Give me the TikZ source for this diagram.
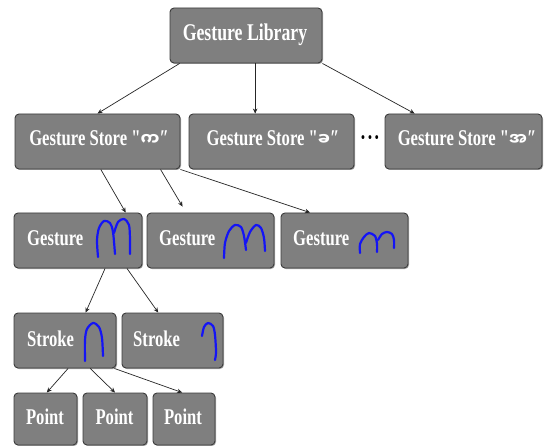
\documentclass[tikz,border=0pt]{standalone}
\usepackage{fontspec}
\newfontfamily\boxfont{Liberation Serif}[FakeStretch=0.74]
\newfontfamily\mya[Script=Myanmar]{Noto Sans Myanmar UI}
\usetikzlibrary{arrows.meta,calc,shadows}
\definecolor{boxc}{HTML}{7F7F7F}
\definecolor{edgec}{HTML}{3C3C3C}
\definecolor{inkc}{HTML}{1414F5}
\newcommand{\myc}[1]{{\mya\fontsize{17}{17}\selectfont #1}}
\begin{document}
\begin{tikzpicture}[x=1pt,y=-1pt,
 box/.style={draw=edgec, fill=boxc, rounded corners=4pt, line width=0.9pt, inner sep=0pt,
   drop shadow={shadow xshift=1pt,shadow yshift=-1pt,opacity=0.35,fill=black}},
 lbl/.style={text=white, inner sep=0pt, font=\boxfont\bfseries\fontsize{22.5}{24}\selectfont},
 con/.style={-{Stealth[length=5pt,width=4.5pt]}, line width=0.7pt, draw=black!85},
 ink/.style={draw=inkc, line width=2.2pt, line cap=round, line join=round}]
\useasboundingbox (0,0) rectangle (548,446);
\fill[white] (0,0) rectangle (548,446);

% boxes
\node[box, minimum width=152pt, minimum height=55pt] (lib) at (246,35.5) {};
\node[box, minimum width=165pt, minimum height=55pt] (s1) at (97.5,141.5) {};
\node[box, minimum width=165pt, minimum height=55pt] (s2) at (271.5,141.5) {};
\node[box, minimum width=157pt, minimum height=55pt] (s3) at (463.5,141.5) {};
\node[box, minimum width=128pt, minimum height=55pt] (g1) at (78,240.5) {};
\node[box, minimum width=127pt, minimum height=55pt] (g2) at (210.5,240.5) {};
\node[box, minimum width=127pt, minimum height=55pt] (g3) at (344.5,240.5) {};
\node[box, minimum width=102pt, minimum height=55pt] (st1) at (65,340.5) {};
\node[box, minimum width=101pt, minimum height=55pt] (st2) at (172.5,340.5) {};
\node[box, minimum width=63pt, minimum height=52pt] (p1) at (45.5,419) {};
\node[box, minimum width=64pt, minimum height=52pt] (p2) at (115,419) {};
\node[box, minimum width=62pt, minimum height=52pt] (p3) at (184,419) {};

% labels
\node[lbl, anchor=base, font=\boxfont\bfseries\fontsize{24}{26}\selectfont] (tlib) at (245,41) {Gesture Library};
\node[lbl, anchor=base] (ts1) at (99,146) {Gesture Store "\myc{က}″};
\node[lbl, anchor=base] (ts2) at (273,146) {Gesture Store "\myc{ခ}″};
\node[lbl, anchor=base] (ts3) at (467,146) {Gesture Store "\myc{အ}″};
\node[anchor=base, inner sep=0pt, font=\boxfont\bfseries\fontsize{24}{24}\selectfont] (dots) at (370,146) {·\kern1pt·\kern1pt·};
\node[lbl, anchor=base west] (tg1) at (27,245) {Gesture};
\node[lbl, anchor=base west] (tg2) at (159,245) {Gesture};
\node[lbl, anchor=base west] (tg3) at (293,245) {Gesture};
\node[lbl, anchor=base west] (tst1) at (27,346) {Stroke};
\node[lbl, anchor=base west] (tst2) at (133,346) {Stroke};
\node[lbl, anchor=base] (tp1) at (45,424) {Point};
\node[lbl, anchor=base] (tp2) at (114.5,424) {Point};
\node[lbl, anchor=base] (tp3) at (183,424) {Point};

% handwritten glyphs
\draw[ink] plot[smooth] coordinates {(98,257) (97,240) (99,228) (104,221) (110,223) (113,232) (115,254)};
\draw[ink] plot[smooth] coordinates {(114,233) (118,222) (124,219) (129,225) (130,240) (130,254)};
\draw[ink] plot[smooth] coordinates {(224,258) (225,243) (229,231) (235,225) (241,227) (244,236) (246,250)};
\draw[ink] plot[smooth] coordinates {(246,243) (250,232) (256,225) (261,228) (264,238) (265,251)};
\draw[ink] plot[smooth] coordinates {(360,253) (360,244) (364,237) (369,233) (375,236) (377,244) (377,252)};
\draw[ink] plot[smooth] coordinates {(378,240) (382,234) (387,232) (392,234) (394,240) (394,248)};
\draw[ink] plot[smooth] coordinates {(85,361) (85,340) (87,329) (93,323) (99,327) (102,338) (103,356)};
\draw[ink] plot[smooth] coordinates {(202,336) (204,327) (208,323) (213,326) (215,335) (216,352) (215,360)};

% connectors
\draw[con] ($(lib.south west)!0.066!(lib.south east)$) -- (s1.north);
\coordinate (l2) at ($(lib.south west)!0.56!(lib.south east)$);
\draw[con] (l2) -- (l2 |- s2.north);
\draw[con] (lib.south east) -- ($(s3.north west)!0.19!(s3.north east)$);

\draw[con] ($(s1.south west)!0.52!(s1.south east)$) -- ($(g1.north west)!0.87!(g1.north east)$);
\coordinate (g2end) at ($(g2.north west)+(36,-6)$);
\draw[con] ($(s1.south west)!0.88!(s1.south east)$) -- (g2end);
\draw[con] (s1.south east) -- ($(g3.north west)!0.23!(g3.north east)$);

\draw[con] ($(g1.south west)!0.71!(g1.south east)$) -- ($(st1.north west)!0.70!(st1.north east)$);
\draw[con] ($(g1.south west)!0.88!(g1.south east)$) -- ($(st2.north west)!0.36!(st2.north east)$);

\draw[con] ($(st1.south west)!0.53!(st1.south east)$) -- ($(p1.north west)!0.52!(p1.north east)$);
\draw[con] ($(st1.south west)!0.745!(st1.south east)$) -- ($(p2.north west)!0.5!(p2.north east)$);
\draw[con] ($(st1.south west)!0.98!(st1.south east)$) -- ($(p3.north west)!0.47!(p3.north east)$);
\end{tikzpicture}
\end{document}
